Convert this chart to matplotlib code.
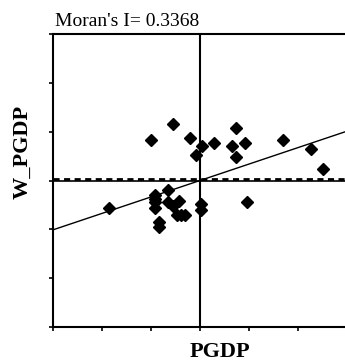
import matplotlib
matplotlib.use("Agg")
import matplotlib.pyplot as plt
import numpy as np

# Standardized PGDP (x) and its spatial lag W_PGDP (y)
pgdp = [-0.55, -0.99, -0.20, 0.05, -0.08, 0.29, 0.74, 0.66, 0.91, 0.74,
        1.69, 2.26, 2.51, -1.86, -0.91, -0.66, -0.91, -0.91, -0.66, -0.55,
        -0.42, -0.46, -0.39, -0.30, -0.83, -0.83, 0.03, 0.03, 0.95, -0.91]
w_pgdp = [1.15, 0.82, 0.87, 0.70, 0.53, 0.77, 1.08, 0.70, 0.77, 0.49,
          0.82, 0.65, 0.24, -0.57, -0.29, -0.20, -0.44, -0.57, -0.44, -0.53,
          -0.41, -0.71, -0.71, -0.71, -0.85, -0.96, -0.48, -0.60, -0.44, -0.38]
moran_i = 0.3368
intercept = 0.0
ticks = [-3, -2, -1, 0, 1, 2, 3]

W, H = 345, 363
fig = plt.figure(figsize=(W / 100, H / 100), dpi=100)
left, right, top, bottom = 53, 347, 34, 327
ax = fig.add_axes([left / W, (H - bottom) / H, (right - left) / W, (bottom - top) / H])
ax.set_xlim(-3, 3)
ax.set_ylim(-3, 3)

serif = ['Liberation Serif', 'DejaVu Serif']

# quadrant lines
ax.axvline(0, color='black', lw=1.5, zorder=2)
ax.axhline(0, color='black', lw=1.2, zorder=2)
ax.axhline(0.04, color='black', lw=2.0, ls=(0, (2.2, 1.6)), zorder=2)

# regression line
xs = np.array([-3, 3])
ax.plot(xs, intercept + moran_i * xs, color='black', lw=1.0, zorder=3)

ax.plot(pgdp, w_pgdp, ls='none', marker='D', ms=5.8, color='black', zorder=4)

for s in ['left', 'bottom', 'top']:
    ax.spines[s].set_linewidth(1.5)
ax.spines['right'].set_visible(False)
ax.set_xticks(ticks)
ax.set_yticks(ticks)
ax.set_xticklabels([])
ax.set_yticklabels([])
ax.tick_params(direction='out', length=3, width=1.2)

fig.text(55 / W, 1 - 22 / H, "Moran's I= 0.3368", fontsize=14, family=serif,
         ha='left', va='center')
fig.text(220 / W, 1 - 352 / H, "PGDP", fontsize=16, fontweight='bold',
         family=serif, ha='center', va='center')
fig.text(23 / W, 1 - 152 / H, "W_PGDP", fontsize=16, fontweight='bold',
         family=serif, ha='center', va='center', rotation=90)

fig.savefig("out.png", dpi=100)
